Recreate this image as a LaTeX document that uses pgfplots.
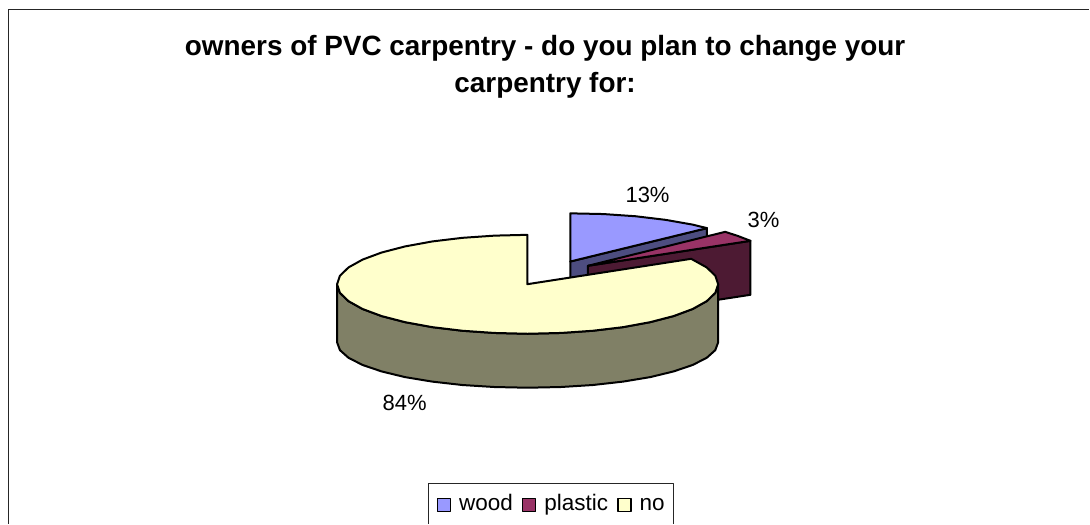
\documentclass[border=0pt]{standalone}
\usepackage{fontspec}
\setmainfont{Liberation Sans}
\usepackage{pgfplots}
\pgfplotsset{compat=1.18}

\definecolor{woodtop}{HTML}{9999FF}
\definecolor{woodside}{HTML}{4D4D80}
\definecolor{plastictop}{HTML}{993366}
\definecolor{plasticside}{HTML}{4D1A33}
\definecolor{notop}{HTML}{FFFFCC}
\definecolor{noside}{HTML}{808066}

\begin{document}
\begin{tikzpicture}
\begin{axis}[
    scale only axis,
    width=1090pt, height=524pt,
    xmin=0, xmax=1090, ymin=0, ymax=524,
    y dir=reverse,
    hide axis,
    clip=false,
    every axis plot/.append style={draw=black, line width=2pt, line join=round},
    legend columns=3,
    legend cell align=left,
    legend style={
        at={(axis cs:551,505)}, anchor=center,
        draw=none, fill=none,
        font=\fontsize{22.5}{26}\selectfont,
        inner xsep=0pt, inner ysep=0pt,
        nodes={inner xsep=0pt, inner ysep=0pt, text height=16pt, text depth=5pt},
        /tikz/every odd column/.append style={column sep=8pt},
        /tikz/every even column/.append style={column sep=9pt},
    },
    legend image code/.code={
        \draw[#1, line width=1.5pt] (0pt,-7pt) rectangle (13pt,6pt);
    },
]
% keeps the page the full size, hide axis drops the axis box from the bounding box
\addplot[forget plot, draw=none, line width=0pt] coordinates {(0,0) (1090,524)};
% frame: top and left edges only, the rest is cut off
\addplot[forget plot, line width=1.6pt, draw=black!85] coordinates {(8.5,524) (8.5,9.5) (1090,9.5)};
% legend box, its bottom edge is cut off too
\addplot[forget plot, line width=1.2pt, draw=black!85] coordinates {(429,524) (429,484) (674,484) (674,524)};

% wood 13%
\addplot[forget plot, fill=woodside] coordinates {(570.7,261.7) (707.5,228.3) (707.5,282) (570.7,316)} -- cycle;
\addplot[fill=woodtop] coordinates {(570.7,261.7) (570.7,213.5) (603.8,214.2) (635.9,216.4) (666,220) (693.3,224.8) (707.5,228.3)} -- cycle;
\addlegendentry{wood}

% plastic 3%
\addplot[forget plot, fill=plasticside] coordinates {(588.3,266) (751,241) (751,295) (588.3,320)} -- cycle;
\addplot[fill=plastictop] coordinates {(588.3,266) (725.7,232) (738.6,236.2) (751,241)} -- cycle;
\addlegendentry{plastic}

% no 84%, rim first
\addplot[forget plot, fill=noside] coordinates {
    (337.3,284.5) (340.2,293.1) (348.8,301.4) (362.9,309.25) (381.9,316.3) (405.4,322.4)
    (432.7,327.4) (462.8,331) (494.9,333.2) (528,334) (561.1,333.2) (593.2,331)
    (623.4,327.4) (650.6,322.4) (674.1,316.3) (693.1,309.25) (707.2,301.4) (715.8,293.1)
    (718.7,284.5) (718.7,342.5)
    (715.8,350.4) (707.2,358.1) (693.1,365.25) (674.1,371.7) (650.6,377.4) (623.4,381.9)
    (593.2,385.3) (561.1,387.3) (528,388) (494.9,387.3) (462.8,385.3) (432.7,381.9)
    (405.4,377.4) (381.9,371.7) (362.9,365.25) (348.8,358.1) (340.2,350.4) (337.3,342.5)
} -- cycle;
\addplot[fill=notop] coordinates {
    (527.7,284.4) (527.7,235) (494.9,235.8) (462.8,238) (432.7,241.6) (405.4,246.6)
    (381.9,252.7) (362.9,259.75) (348.8,267.6) (340.2,275.9) (337.3,284.5)
    (340.2,293.1) (348.8,301.4) (362.9,309.25) (381.9,316.3) (405.4,322.4)
    (432.7,327.4) (462.8,331) (494.9,333.2) (528,334) (561.1,333.2) (593.2,331)
    (623.4,327.4) (650.6,322.4) (674.1,316.3) (693.1,309.25) (707.2,301.4) (715.8,293.1)
    (718.7,284.5) (715.8,275.9) (707.2,267.6) (691.7,259)
} -- cycle;
\addlegendentry{no}

\node[font=\fontsize{27.9}{32}\selectfont\bfseries, anchor=base] at (axis cs:545.5,56)
    {owners of PVC carpentry - do you plan to change your};
\node[font=\fontsize{27.9}{32}\selectfont\bfseries, anchor=base] at (axis cs:545.5,93)
    {carpentry for:};
\node[font=\fontsize{22}{26}\selectfont] at (axis cs:648,195) {13\%};
\node[font=\fontsize{22}{26}\selectfont] at (axis cs:764,220) {3\%};
\node[font=\fontsize{22}{26}\selectfont] at (axis cs:405,403) {84\%};
\end{axis}
\end{tikzpicture}
\end{document}
